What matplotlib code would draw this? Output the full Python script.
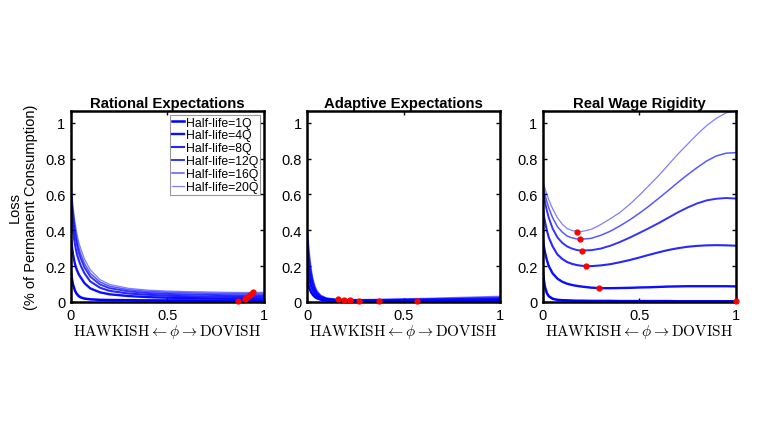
import numpy as np
import matplotlib
matplotlib.use("Agg")
import matplotlib.pyplot as plt

plt.rcParams['font.family'] = ['Liberation Sans', 'DejaVu Sans']
plt.rcParams['mathtext.fontset'] = 'cm'

labels = ["Half-life=1Q", "Half-life=4Q", "Half-life=8Q",
          "Half-life=12Q", "Half-life=16Q", "Half-life=20Q"]

# Rational expectations
phi_re = [0, 0.005, 0.01, 0.02, 0.03, 0.04, 0.05, 0.07, 0.1, 0.15, 0.2,
          0.3, 0.4, 0.5, 0.6, 0.7, 0.8, 0.9, 1.0]
re_1q = [0.17, 0.13, 0.10, 0.065, 0.045, 0.033, 0.026, 0.019, 0.015, 0.012, 0.011,
         0.010, 0.009, 0.009, 0.009, 0.008, 0.008, 0.008, 0.008]
re_4q = [0.36, 0.31, 0.27, 0.215, 0.18, 0.155, 0.138, 0.105, 0.076, 0.054, 0.043,
         0.033, 0.027, 0.024, 0.022, 0.020, 0.019, 0.018, 0.019]
re_8q = [0.52, 0.45, 0.40, 0.325, 0.27, 0.235, 0.205, 0.16, 0.115, 0.08, 0.062,
         0.047, 0.040, 0.035, 0.032, 0.030, 0.029, 0.028, 0.029]
re_12q = [0.60, 0.53, 0.47, 0.385, 0.325, 0.278, 0.245, 0.193, 0.142, 0.098, 0.077,
          0.059, 0.050, 0.045, 0.042, 0.040, 0.038, 0.037, 0.038]
re_16q = [0.64, 0.57, 0.51, 0.42, 0.355, 0.305, 0.27, 0.215, 0.16, 0.112, 0.088,
          0.068, 0.059, 0.054, 0.051, 0.049, 0.047, 0.046, 0.047]
re_20q = [0.67, 0.60, 0.54, 0.45, 0.385, 0.335, 0.30, 0.24, 0.18, 0.125, 0.098,
          0.076, 0.066, 0.061, 0.058, 0.056, 0.054, 0.053, 0.054]
re_opt_x = [0.866, 0.903, 0.915, 0.927, 0.936, 0.944]
re_opt_y = [0.008, 0.018, 0.028, 0.037, 0.046, 0.053]

# Adaptive expectations
phi_ae = [0, 0.005, 0.01, 0.02, 0.03, 0.04, 0.05, 0.07, 0.1, 0.15, 0.2,
          0.3, 0.4, 0.5, 0.6, 0.7, 0.8, 0.9, 1.0]
ae_1q = [0.13, 0.10, 0.08, 0.055, 0.039, 0.028, 0.021, 0.013, 0.008, 0.005, 0.004,
         0.003, 0.003, 0.003, 0.003, 0.004, 0.004, 0.005, 0.006]
ae_4q = [0.20, 0.16, 0.13, 0.088, 0.062, 0.044, 0.032, 0.020, 0.012, 0.008, 0.006,
         0.005, 0.005, 0.005, 0.006, 0.007, 0.008, 0.009, 0.011]
ae_8q = [0.28, 0.22, 0.18, 0.12, 0.083, 0.058, 0.042, 0.025, 0.015, 0.010, 0.008,
         0.007, 0.008, 0.009, 0.010, 0.011, 0.012, 0.014, 0.016]
ae_12q = [0.34, 0.27, 0.22, 0.145, 0.10, 0.07, 0.05, 0.03, 0.018, 0.012, 0.010,
          0.010, 0.011, 0.012, 0.013, 0.015, 0.017, 0.019, 0.021]
ae_16q = [0.40, 0.32, 0.26, 0.17, 0.115, 0.08, 0.058, 0.034, 0.020, 0.014, 0.012,
          0.012, 0.013, 0.015, 0.017, 0.019, 0.021, 0.024, 0.026]
ae_20q = [0.45, 0.36, 0.29, 0.19, 0.13, 0.09, 0.065, 0.038, 0.023, 0.016, 0.014,
          0.014, 0.016, 0.018, 0.020, 0.023, 0.026, 0.029, 0.032]
ae_opt_x = [0.569, 0.37, 0.27, 0.221, 0.19, 0.161]
ae_opt_y = [0.003, 0.005, 0.007, 0.010, 0.012, 0.014]

# Real wage rigidity
phi_rw = [0, 0.005, 0.01, 0.02, 0.03, 0.05, 0.075, 0.1, 0.125, 0.15, 0.175, 0.2,
          0.25, 0.3, 0.35, 0.4, 0.45, 0.5, 0.55, 0.6, 0.65, 0.7, 0.75, 0.8,
          0.85, 0.9, 0.95, 1.0]
rw_1q = [0.17, 0.12, 0.085, 0.05, 0.032, 0.018, 0.012, 0.010, 0.009, 0.008, 0.007, 0.007,
         0.006, 0.006, 0.006, 0.005, 0.005, 0.005, 0.005, 0.005, 0.005, 0.004, 0.004, 0.004,
         0.004, 0.004, 0.004, 0.004]
rw_4q = [0.35, 0.31, 0.28, 0.235, 0.20, 0.16, 0.13, 0.113, 0.102, 0.095, 0.090, 0.086,
         0.080, 0.077, 0.077, 0.078, 0.079, 0.081, 0.082, 0.084, 0.086, 0.087, 0.088, 0.088,
         0.088, 0.088, 0.088, 0.087]
rw_8q = [0.52, 0.48, 0.45, 0.40, 0.36, 0.31, 0.265, 0.24, 0.223, 0.213, 0.206, 0.202,
         0.200, 0.204, 0.211, 0.222, 0.234, 0.248, 0.263, 0.277, 0.290, 0.300, 0.308, 0.313,
         0.316, 0.317, 0.316, 0.314]
rw_12q = [0.62, 0.59, 0.56, 0.51, 0.47, 0.41, 0.36, 0.33, 0.31, 0.298, 0.290, 0.287,
          0.289, 0.298, 0.314, 0.335, 0.359, 0.385, 0.412, 0.44, 0.47, 0.50, 0.527, 0.55,
          0.567, 0.576, 0.58, 0.577]
rw_16q = [0.65, 0.625, 0.60, 0.56, 0.525, 0.47, 0.42, 0.39, 0.368, 0.358, 0.352, 0.350,
          0.355, 0.372, 0.395, 0.425, 0.458, 0.495, 0.535, 0.578, 0.622, 0.667, 0.71, 0.75,
          0.787, 0.815, 0.83, 0.833]
rw_20q = [0.675, 0.655, 0.635, 0.60, 0.57, 0.52, 0.47, 0.434, 0.41, 0.399, 0.394, 0.393,
          0.405, 0.432, 0.465, 0.50, 0.545, 0.595, 0.65, 0.705, 0.765, 0.825, 0.88, 0.935,
          0.985, 1.025, 1.055, 1.065]
rw_opt_x = [1.0, 0.29, 0.221, 0.20, 0.191, 0.179]
rw_opt_y = [0.004, 0.076, 0.199, 0.286, 0.349, 0.391]

panels = [
    ("Rational Expectations", phi_re, [re_1q, re_4q, re_8q, re_12q, re_16q, re_20q], re_opt_x, re_opt_y),
    ("Adaptive Expectations", phi_ae, [ae_1q, ae_4q, ae_8q, ae_12q, ae_16q, ae_20q], ae_opt_x, ae_opt_y),
    ("Real Wage Rigidity", phi_rw, [rw_1q, rw_4q, rw_8q, rw_12q, rw_16q, rw_20q], rw_opt_x, rw_opt_y),
]

alphas = [1.0, 0.95, 0.85, 0.8, 0.65, 0.5]
widths = [1.8, 1.7, 1.5, 1.4, 1.1, 0.9]

fig = plt.figure(figsize=(7.68, 4.31), dpi=100)
lefts = [0.0924, 0.400, 0.707]

for i, (title, phi, curves, ox, oy) in enumerate(panels):
    ax = fig.add_axes([lefts[i], 0.297, 0.251, 0.443])
    for c, lab, a, w in zip(curves, labels, alphas, widths):
        ax.plot(phi, c, color='blue', alpha=a, linewidth=w, label=lab)
    ax.plot(ox, oy, 'o', color='red', markersize=3.5, linestyle='none',
            clip_on=False, zorder=5)
    ax.set_xlim(0, 1)
    ax.set_ylim(0, 1.065)
    ax.set_xticks([0, 0.5, 1])
    ax.set_xticklabels(['0', '0.5', '1'])
    ax.set_yticks([0, 0.2, 0.4, 0.6, 0.8, 1])
    ax.set_yticklabels(['0', '0.2', '0.4', '0.6', '0.8', '1'])
    ax.tick_params(direction='in', top=True, right=True, length=3, width=1,
                   labelsize=10.5, pad=4)
    for s in ax.spines.values():
        s.set_linewidth(1.8)
    ax.set_title(title, fontsize=10.7, fontweight='bold', pad=3)
    ax.set_xlabel(r'$\mathrm{HAWKISH} \leftarrow \phi \rightarrow \mathrm{DOVISH}$',
                  fontsize=11, labelpad=0)
    if i == 0:
        ax.set_ylabel("Loss\n(% of Permanent Consumption)", fontsize=10.5, labelpad=5)
        leg = ax.legend(loc='upper right', fontsize=8.8, frameon=True, fancybox=False,
                        edgecolor='gray', borderpad=0.15, handlelength=1.0,
                        handletextpad=0.15, labelspacing=0.07, borderaxespad=0.3)
        leg.get_frame().set_linewidth(0.8)

fig.savefig("out.png", dpi=100)
